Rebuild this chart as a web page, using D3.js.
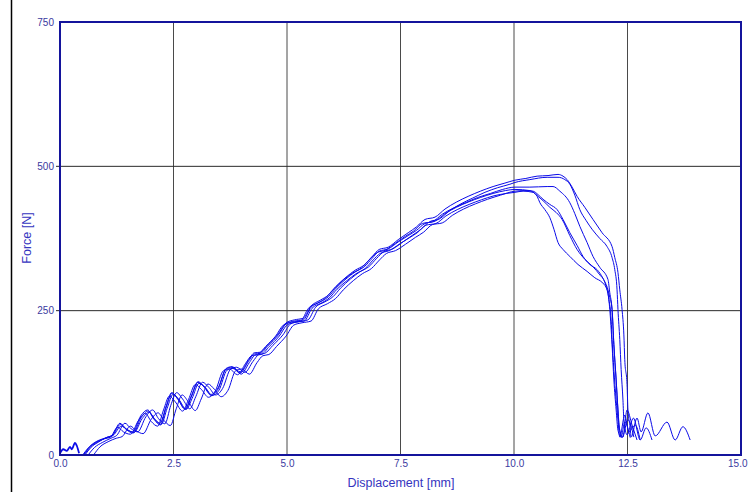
<!DOCTYPE html>
<html><head><meta charset="utf-8">
<script src="https://cdn.jsdelivr.net/npm/d3@7/dist/d3.min.js"></script>
<style>body{margin:0;background:#fff;}svg{display:block;font-family:Arial,"Liberation Sans",sans-serif;}</style>
</head><body><svg id="c" width="748" height="492"></svg>
<script>
const xTicks = [0, 2.5, 5, 7.5, 10, 12.5, 15];
const yTicks = [0, 250, 500, 750];
const xTitle = "Displacement [mm]";
const yTitle = "Force [N]";

const preLoad = [[0,3],[0.07,10],[0.15,7],[0.22,14],[0.26,10],[0.33,21],[0.37,16],[0.42,3]];

const spec1 = [[0.52,0],[0.66,15],[0.84,25],[1.02,30],[1.16,35],[1.32,55],[1.46,45],[1.60,40],[1.78,68],[1.93,78],[2.06,64],[2.20,55],[2.34,85],[2.46,108],[2.60,97],[2.75,80],[2.89,102],[3.04,127],[3.18,118],[3.33,105],[3.48,116],[3.66,150],[3.79,153],[3.97,144],[4.15,164],[4.28,177],[4.41,178],[4.59,192],[4.81,210],[4.98,229],[5.16,234],[5.36,237],[5.53,258],[5.73,268],[5.91,277],[6.08,292],[6.30,308],[6.50,320],[6.70,329],[6.88,344],[7.03,356],[7.23,360],[7.45,373],[7.67,385],[7.85,395],[8.04,408],[8.26,412],[8.48,426],[8.73,438],[8.99,448],[9.26,457],[9.54,465],[9.80,471],[10.02,476],[10.26,479],[10.51,483],[10.75,484],[10.97,486],[11.08,483],[11.17,477],[11.28,464],[11.39,448],[11.56,429],[11.74,408],[11.94,385],[12.16,361],[12.22,342],[12.29,316],[12.33,286],[12.38,252],[12.42,208],[12.44,165],[12.49,122],[12.51,78],[12.56,47],[12.58,31],[12.71,64],[12.80,40],[12.95,73],[13.11,33],[13.37,57],[13.55,26],[13.72,49],[13.88,26]];

const spec2 = [[0.62,0],[0.76,13],[0.94,22],[1.12,29],[1.25,34],[1.43,55],[1.56,46],[1.71,40],[1.89,66],[2.04,78],[2.17,63],[2.31,54],[2.44,86],[2.57,108],[2.70,97],[2.86,80],[2.99,101],[3.14,126],[3.28,117],[3.43,104],[3.58,115],[3.76,149],[3.89,152],[4.07,143],[4.25,162],[4.38,174],[4.51,176],[4.69,190],[4.91,208],[5.08,227],[5.26,231],[5.46,234],[5.63,256],[5.83,265],[6.01,274],[6.18,289],[6.40,305],[6.60,317],[6.80,326],[6.98,341],[7.13,352],[7.33,357],[7.55,369],[7.77,381],[7.95,391],[8.14,404],[8.36,409],[8.58,423],[8.83,435],[9.09,445],[9.36,455],[9.64,463],[9.91,469],[10.02,472],[10.35,477],[10.73,481],[10.97,481],[11.12,477],[11.23,469],[11.34,450],[11.45,425],[11.59,406],[11.72,391],[11.89,375],[12.05,361],[12.16,342],[12.22,321],[12.27,286],[12.29,252],[12.33,200],[12.36,148],[12.40,95],[12.42,61],[12.49,35],[12.63,64],[12.78,26],[12.91,47],[13.04,26]];

const spec3 = [[0.50,0],[0.62,12],[0.80,22],[0.98,28],[1.11,31],[1.27,48],[1.40,40],[1.55,36],[1.73,60],[1.88,72],[2.01,58],[2.15,50],[2.28,78],[2.41,102],[2.54,92],[2.70,76],[2.83,96],[2.98,122],[3.12,113],[3.27,100],[3.42,111],[3.60,146],[3.73,149],[3.91,139],[4.09,159],[4.22,172],[4.35,174],[4.53,188],[4.75,206],[4.92,225],[5.10,230],[5.30,232],[5.47,254],[5.67,263],[5.85,272],[6.02,287],[6.24,303],[6.44,315],[6.64,324],[6.82,339],[6.97,350],[7.17,355],[7.39,367],[7.61,379],[7.79,388],[7.98,401],[8.20,404],[8.42,417],[8.67,428],[8.93,437],[9.20,446],[9.48,453],[9.75,460],[10.02,464],[10.35,464],[10.73,465],[10.86,465],[11.01,457],[11.23,437],[11.34,418],[11.45,396],[11.61,368],[11.74,344],[11.89,325],[12.07,304],[12.11,281],[12.16,252],[12.20,191],[12.25,130],[12.29,78],[12.33,43],[12.40,31],[12.49,78],[12.60,52],[12.71,26]];

const spec4 = [[0.74,0],[0.88,14],[1.06,23],[1.24,29],[1.37,32],[1.55,50],[1.68,42],[1.83,37],[2.01,62],[2.16,73],[2.29,60],[2.43,51],[2.56,80],[2.69,104],[2.82,93],[2.98,77],[3.11,97],[3.26,123],[3.40,114],[3.55,101],[3.70,112],[3.87,146],[4.00,149],[4.17,140],[4.34,160],[4.47,172],[4.60,174],[4.77,188],[4.98,206],[5.15,225],[5.33,229],[5.53,232],[5.69,253],[5.89,262],[6.07,271],[6.24,286],[6.46,302],[6.66,314],[6.86,323],[7.04,338],[7.19,349],[7.39,354],[7.61,365],[7.83,377],[8.01,386],[8.20,399],[8.42,402],[8.64,415],[8.89,426],[9.15,435],[9.42,443],[9.70,450],[10.02,457],[10.24,458],[10.42,457],[10.53,451],[10.64,443],[10.79,434],[10.95,425],[11.08,408],[11.23,385],[11.39,363],[11.52,344],[11.67,330],[11.83,321],[11.96,306],[12.07,286],[12.11,273],[12.16,252],[12.20,191],[12.25,130],[12.29,78],[12.31,52],[12.38,30],[12.51,61],[12.64,31]];

const spec5 = [[0.55,0],[0.68,13],[0.86,23],[1.04,31],[1.17,34],[1.35,50],[1.48,44],[1.63,39],[1.81,63],[1.96,74],[2.09,62],[2.23,53],[2.36,81],[2.49,105],[2.62,96],[2.78,79],[2.91,98],[3.06,124],[3.20,117],[3.35,103],[3.50,112],[3.68,147],[3.81,150],[3.99,140],[4.17,160],[4.30,173],[4.43,174],[4.61,188],[4.83,206],[5.00,225],[5.18,230],[5.38,232],[5.55,254],[5.75,263],[5.93,272],[6.10,287],[6.32,302],[6.52,314],[6.72,323],[6.90,338],[7.05,349],[7.25,354],[7.47,365],[7.69,376],[7.87,385],[8.06,398],[8.28,401],[8.50,414],[8.75,425],[9.01,434],[9.28,442],[9.56,449],[9.83,453],[10.02,455],[10.20,457],[10.42,455],[10.51,448],[10.57,437],[10.68,425],[10.79,411],[10.88,391],[10.97,368],[11.08,356],[11.23,344],[11.41,330],[11.61,318],[11.78,307],[11.94,299],[12.03,290],[12.07,281],[12.11,252],[12.16,191],[12.20,130],[12.25,78],[12.29,43],[12.36,31],[12.44,57],[12.56,30]];

const spec6 = [[0.53,0],[0.67,14],[0.85,24],[1.03,30],[1.15,33],[1.33,53],[1.46,44],[1.61,38],[1.79,65],[1.94,76],[2.07,62],[2.21,52],[2.34,83],[2.47,107],[2.60,96],[2.76,79],[2.89,100],[3.04,126],[3.18,117],[3.33,103],[3.48,114],[3.66,149],[3.79,152],[3.97,142],[4.15,162],[4.28,175],[4.41,176],[4.59,190],[4.81,208],[4.98,227],[5.16,232],[5.36,234],[5.53,256],[5.73,265],[5.91,274],[6.08,289],[6.30,305],[6.50,317],[6.70,326],[6.88,341],[7.03,353],[7.23,357],[7.45,369],[7.67,380],[7.85,389],[8.04,401],[8.26,405],[8.48,418],[8.73,429],[8.99,438],[9.26,446],[9.54,453],[9.81,458],[10.02,460],[10.35,458],[10.53,448],[10.66,439],[10.79,429],[10.93,420],[11.06,408],[11.23,380],[11.39,356],[11.56,339],[11.74,326],[11.89,312],[12.00,299],[12.09,269],[12.14,234],[12.16,200],[12.20,148],[12.25,95],[12.29,61],[12.33,31],[12.44,69],[12.53,40],[12.67,52],[12.78,26]];

const specimens = [spec1, spec2, spec3, spec4, spec5, spec6];

const svg = d3.select("#c");
const L = 60, R = 741, T = 22, B = 455;
const x = d3.scaleLinear().domain([0, 15]).range([L, R]);
const y = d3.scaleLinear().domain([0, 750]).range([B, T]);

// outer left rule
svg.append("line").attr("x1", 11.5).attr("x2", 11.5).attr("y1", 0).attr("y2", 492)
  .attr("stroke", "#000").attr("stroke-width", 1.5);

// grid
const g = svg.append("g");
g.selectAll(".vx").data(xTicks.filter(d => d > 0 && d < 15)).join("line")
  .attr("x1", d => x(d)).attr("x2", d => x(d)).attr("y1", T).attr("y2", B)
  .attr("stroke", "#4a4a4a").attr("stroke-width", 1);
g.selectAll(".hy").data(yTicks.filter(d => d > 0 && d < 750)).join("line")
  .attr("x1", L - 4).attr("x2", R).attr("y1", d => y(d)).attr("y2", d => y(d))
  .attr("stroke", "#2a2a2a").attr("stroke-width", 1);

// axes labels via d3 axes
const xAxis = d3.axisBottom(x).tickValues(xTicks).tickFormat(d3.format(".1f")).tickSize(0).tickPadding(5);
const yAxis = d3.axisLeft(y).tickValues(yTicks).tickFormat(d3.format("d")).tickSize(0).tickPadding(6);
const ax = svg.append("g").attr("transform", `translate(0,${B})`).call(xAxis);
const ay = svg.append("g").attr("transform", `translate(${L},0)`).call(yAxis);
[ax, ay].forEach(a => {
  a.select(".domain").remove();
  a.selectAll("text").attr("fill", "#3a3aa0").attr("font-size", 10)
    .attr("font-family", "Arial, 'Liberation Sans', sans-serif");
});
// keep the last x label inside the window
ax.selectAll(".tick").filter(d => d === 15).select("text").attr("text-anchor", "end").attr("dx", 6);

// curves
const line = d3.line().x(d => x(d[0])).y(d => y(d[1])).curve(d3.curveMonotoneX);
const cg = svg.append("g");
cg.selectAll("path.s").data(specimens).join("path")
  .attr("d", line).attr("fill", "none").attr("stroke", "#0a0ae8").attr("stroke-width", 1)
  .attr("stroke-linejoin", "round");
cg.append("path").datum(preLoad).attr("d", line).attr("fill", "none")
  .attr("stroke", "#0a0ae8").attr("stroke-width", 1.8);

// frame
svg.append("rect").attr("x", L).attr("y", T).attr("width", R - L).attr("height", B - T)
  .attr("fill", "none").attr("stroke", "#14149c").attr("stroke-width", 2);

// titles
svg.append("text").attr("x", 401).attr("y", 487).attr("text-anchor", "middle")
  .attr("fill", "#3535c0").attr("font-size", 12.5).text(xTitle);
svg.append("text").attr("transform", "translate(31,238) rotate(-90)").attr("text-anchor", "middle")
  .attr("fill", "#3535c0").attr("font-size", 12.5).text(yTitle);
</script></body></html>
